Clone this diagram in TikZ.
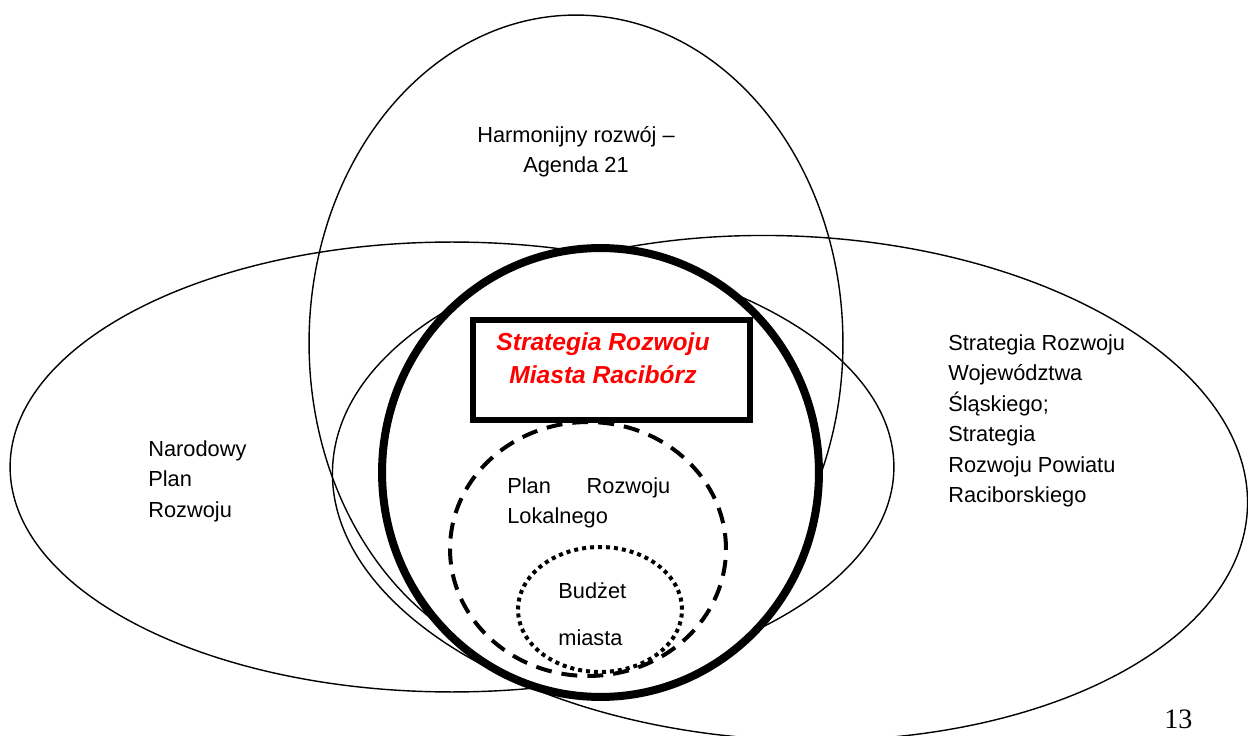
\documentclass[tikz,border=0pt]{standalone}
\usepackage{fontspec}
\setmainfont{Liberation Sans}
\newfontfamily\pagefont{Liberation Serif}
\usetikzlibrary{shapes.geometric, positioning}

\begin{document}
\begin{tikzpicture}[x=0.02cm, y=-0.02cm,
    ring/.style={ellipse, draw, line width=0.8pt, inner sep=0pt},
    core/.style={ellipse, draw, fill=white, line width=0.16cm, inner sep=0pt},
    dashring/.style={ellipse, draw, line width=0.08cm, dash pattern=on 0.32cm off 0.2cm, inner sep=0pt},
    dotring/.style={ellipse, draw, line width=0.08cm, dash pattern=on 0.08cm off 0.08cm, inner sep=0pt},
    redbox/.style={rectangle, draw, line width=0.11cm, inner sep=0pt},
    txt/.style={font=\fontsize{12.4}{17.4}\selectfont, inner sep=0pt, align=left}]
    \useasboundingbox (0,0) rectangle (1248,736);

    % three overlapping programmes
    \node[ring, minimum width=10.68cm, minimum height=13.12cm] (agenda) at (576,343) {};
    \node[ring, minimum width=17.68cm, minimum height=9cm] (npr) at (452,467) {};
    \node[ring, minimum width=18.32cm, minimum height=10.08cm, rotate=-2.6] (srw) at (790,488) {};

    % the town strategy and what sits inside it
    \node[core, minimum width=8.74cm, minimum height=8.98cm] (miasto) at (600.5,472.5) {};
    \node[dashring, minimum width=5.52cm, minimum height=5.08cm] (plr) at (588,549) {};
    \node[dotring, minimum width=3.28cm, minimum height=2.5cm] (budzet) at (600,609.5) {};
    \node[redbox, minimum width=5.54cm, minimum height=2cm] (srm) at (611.5,370) {};

    % texts
    \node[txt, anchor=north, align=center] (agendatxt) at (576,126) {Harmonijny rozwój –\\Agenda 21};
    \node[txt, anchor=north west] (nprtxt) at (148,440) {Narodowy\\Plan\\Rozwoju};
    \node[txt, anchor=north west] (srwtxt) at (948,334)
        {Strategia Rozwoju\\Województwa\\Śląskiego;\\Strategia\\Rozwoju Powiatu\\Raciborskiego};
    \node[txt, anchor=north west, text width=3.26cm] (plrtxt) at (507,477) {Plan\hfill Rozwoju\\Lokalnego};
    \node[txt, anchor=north west, font=\fontsize{12.4}{26.7}\selectfont] (budzettxt) at (558,582) {Budżet\\miasta};
    \node[anchor=north, align=center, inner sep=0pt, text=red,
        font=\fontsize{14}{18.8}\selectfont\bfseries\itshape] (srmtxt) at (603,332) {Strategia Rozwoju\\Miasta Racibórz};
    \node[anchor=north west, inner sep=0pt, font=\pagefont\fontsize{16}{18}\selectfont] (strona) at (1164,710) {13};
\end{tikzpicture}
\end{document}
